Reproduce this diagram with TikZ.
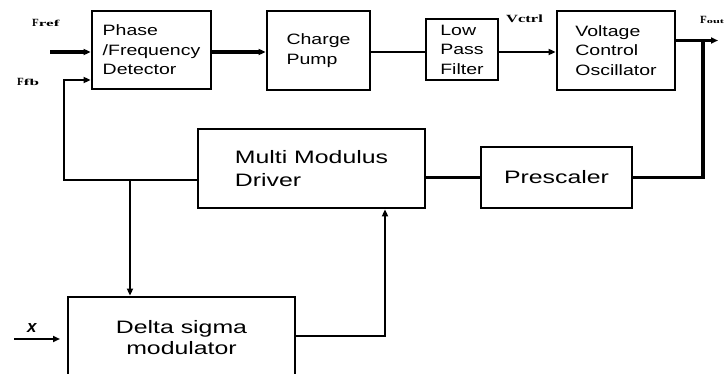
\documentclass[tikz,border=0pt]{standalone}
\usepackage{fontspec}
\setmainfont{Liberation Sans}
\newfontfamily\boxfont[FakeStretch=1.3]{Liberation Sans}
\newfontfamily\bigfont[FakeStretch=1.38]{Liberation Sans}
\newfontfamily\lblfont[FakeStretch=1.5]{Liberation Serif}
\newfontfamily\capfont{Liberation Serif}
\newfontfamily\subfont[FakeStretch=1.9]{Liberation Serif}
\usetikzlibrary{arrows.meta}
\begin{document}
\begin{tikzpicture}[x=1pt,y=-1pt,
  blk/.style={draw, line width=2.8pt, inner sep=0pt, align=left,
    font={\boxfont\fontsize{15}{19.5}\selectfont}},
  bigblk/.style={draw, line width=2.8pt, inner sep=0pt, align=center,
    font={\bigfont\fontsize{18}{23}\selectfont}},
  wire/.style={line width=2.3pt},
  fat/.style={line width=3.1pt},
  arr/.style={-{Triangle[length=7pt,width=6pt]}},
  lbl/.style={inner sep=0pt, anchor=base west, font={\capfont\bfseries\fontsize{11}{12}\selectfont}}
]
\useasboundingbox (0,0) rectangle (726,374);

% blocks
\node[blk, minimum width=119pt, minimum height=78pt] (pfd) at (151.5,50) {Phase\\/Frequency\\Detector};
\node[blk, minimum width=103pt, minimum height=79pt] (cp) at (318.5,50.5) {Charge\\Pump};
\node[blk, minimum width=72pt, minimum height=61pt] (lpf) at (462,49.5) {Low\\Pass\\Filter};
\node[blk, minimum width=118pt, minimum height=79pt] (vco) at (616,50.5) {Voltage\\Control\\Oscillator};
\node[bigblk, minimum width=227pt, minimum height=79pt, align=left] (mmd) at (311.5,168.5) {Multi Modulus\\Driver};
\node[bigblk, minimum width=151pt, minimum height=61pt] (pre) at (556.5,177.5) {Prescaler};
\node[bigblk, minimum width=227pt, minimum height=82pt, font={\bigfont\fontsize{18}{21}\selectfont}] (dsm) at (181.5,338) {Delta sigma\\modulator};

% labels
\node[lbl] (fref) at (32,27) {F{\subfont\fontsize{9}{9}\selectfont ref}};
\node[lbl] (ffb) at (17,86) {F{\subfont\fontsize{9}{9}\selectfont fb}};
\node[lbl, font={\lblfont\bfseries\fontsize{11}{12}\selectfont}] (vctrl) at (506,23) {Vctrl};
\node[lbl] (fout) at (700,23.5) {F{\subfont\fontsize{6.5}{7}\selectfont out}};
\node[inner sep=0pt, anchor=base west, font={\bfseries\itshape\fontsize{17}{18}\selectfont}] (xin) at (27,332) {x};

% free ends and turning points
\coordinate (frefin) at (50,52);
\coordinate (xstart) at (14,339);
\coordinate (xend) at (60,339);
\coordinate (foutend) at (718,40.5);
\coordinate (rturn) at (703,40.5);
\coordinate (lturn) at (64,180);
\coordinate (jn) at (130,180);
\coordinate (dturn) at (385,336);
\coordinate (pfdfb) at ([yshift=-30pt]pfd.west);
\coordinate (mmdfb) at ([yshift=-11.5pt]mmd.west);
\coordinate (vcoout) at ([yshift=10pt]vco.east);

% connectors
\draw[fat, arr] (frefin) -- (pfd.west |- frefin);
\draw[wire, arr] (mmdfb) -- (lturn) -- (lturn |- pfdfb) -- (pfdfb);
\draw[fat, arr] (pfd.east |- frefin) -- (cp.west |- frefin);
\draw[wire] (cp.east |- frefin) -- (lpf.west |- frefin);
\draw[wire, arr] (lpf.east |- frefin) -- (vco.west |- frefin);
\draw[fat, arr] (vcoout) -- (foutend);
\draw[fat] (rturn) -- (rturn |- pre.east) -- (pre.east);
\draw[wire] (pre.west) -- (mmd.east |- pre.west);
\draw[wire, arr] (jn) -- (jn |- dsm.north);
\draw[wire, arr] (dsm.east |- dturn) -- (dturn) -- (dturn |- mmd.south);
\draw[wire, arr] (xstart) -- (xend);
\end{tikzpicture}
\end{document}
